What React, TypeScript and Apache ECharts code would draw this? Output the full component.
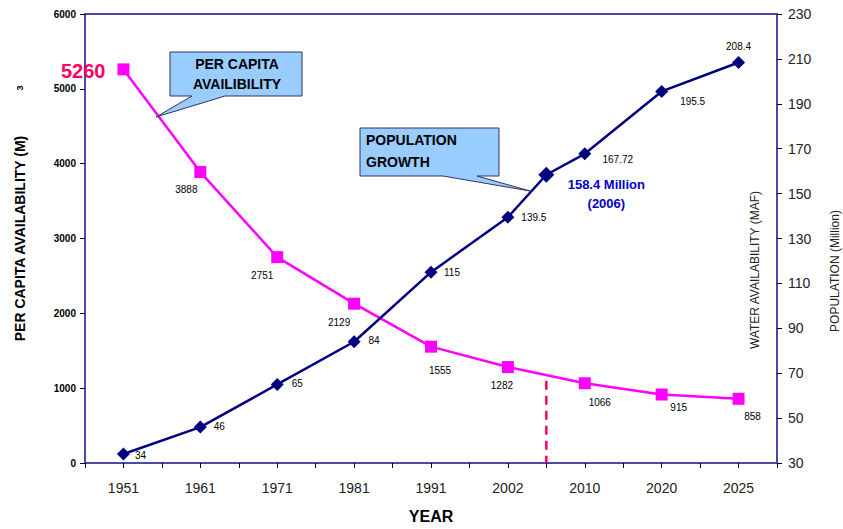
import React, { useEffect, useRef } from "react";
import * as echarts from "echarts";

const years = ["1951", "1961", "1971", "1981", "1991", "2002", "2010", "2020", "2025"];
const perCapita = [5260, 3888, 2751, 2129, 1555, 1282, 1066, 915, 858];
const popYears = [1951, 1961, 1971, 1981, 1991, 2002, 2006, 2010, 2020, 2025];
const population = [34, 46, 65, 84, 115, 139.5, 158.4, 167.72, 195.5, 208.4];
const thresholdYear = 2006;
const thresholdValue = 1100;
const leftAxis = { min: 0, max: 6000, step: 1000 };
const rightAxis = { min: 30, max: 230, step: 20 };

// label placement (styling)
const capitaLabelShift: [number, number][] = [
  [0, 0], [-14, 17], [-15, 18], [-15, 19], [9, 24], [-6, 18], [15, 19], [17, 13], [14, 18],
];
const popLabelShift: ([number, number] | null)[] = [
  [17, 1], [19, -1], [20, -1], [20, -1], [21, 0], [26, 0], null, [33, 6], [31, 10], [0, -16],
];

const yearToIndex = (y: number) => {
  const nums = years.map(Number);
  for (let i = 0; i < nums.length - 1; i++) {
    if (y >= nums[i] && y <= nums[i + 1]) return i + (y - nums[i]) / (nums[i + 1] - nums[i]);
  }
  return nums.indexOf(y);
};

const FONT = "Liberation Sans, Arial, sans-serif";
const NAVY = "#000080";
const PINK = "#ff00ff";
const RED = "#ff0066";
const BLUE = "#0000cc";

export default function App() {
  const ref = useRef<HTMLDivElement>(null);
  useEffect(() => {
    if (!ref.current) return;
    const chart = echarts.init(ref.current, null, { renderer: "svg" });

    const capitaData = perCapita.map((v, i) => {
      if (i === 0) {
        return {
          value: [i, v],
          label: {
            show: true,
            position: "left",
            distance: 12,
            offset: [0, 2],
            formatter: String(v),
            color: RED,
            fontSize: 20,
            fontWeight: "bold",
            fontFamily: FONT,
          },
        };
      }
      return {
        value: [i, v],
        label: {
          show: true,
          position: "inside",
          offset: capitaLabelShift[i],
          formatter: String(v),
          color: "#000",
          fontSize: 10,
          fontFamily: FONT,
        },
      };
    });

    const popData = population.map((v, i) => {
      const shift = popLabelShift[i];
      const x = yearToIndex(popYears[i]);
      if (!shift) {
        return {
          value: [x, v],
          symbolSize: 16,
          label: {
            show: true,
            position: "inside",
            offset: [60, 19],
            formatter: "{a|" + v + " Million}\n{a|(" + popYears[i] + ")}",
            rich: {
              a: { color: BLUE, fontSize: 13, fontWeight: "bold", fontFamily: FONT, lineHeight: 19, align: "center" },
            },
          },
        };
      }
      return {
        value: [x, v],
        label: {
          show: true,
          position: "inside",
          offset: shift,
          formatter: String(v),
          color: "#000",
          fontSize: 10,
          fontFamily: FONT,
        },
      };
    });

    const tx = yearToIndex(thresholdYear);

    const axisLineStyle = { color: "#1a1a5e", width: 2, shadowColor: "#9a9ad0", shadowBlur: 3 };

    chart.setOption({
      animation: false,
      backgroundColor: "#fff",
      grid: {
        left: 85,
        right: 66,
        top: 14,
        bottom: 64,
        show: true,
        borderColor: "#4a4aa8",
        borderWidth: 2,
        backgroundColor: "transparent",
      },
      xAxis: {
        type: "value",
        min: -0.5,
        max: years.length - 0.5,
        interval: 0.5,
        name: "YEAR",
        nameLocation: "middle",
        nameGap: 45,
        nameTextStyle: { fontFamily: FONT, fontSize: 16, fontWeight: "bold", color: "#000" },
        splitLine: { show: false },
        axisLine: { onZero: false, lineStyle: axisLineStyle },
        axisTick: { show: true, length: 5, lineStyle: { color: "#000", width: 1 } },
        axisLabel: {
          margin: 18,
          fontFamily: FONT,
          fontSize: 14,
          color: "#222",
          showMinLabel: true,
          showMaxLabel: true,
          formatter: (v: number) => (Number.isInteger(v) && years[v] ? years[v] : ""),
        },
      },
      yAxis: [
        {
          type: "value",
          min: leftAxis.min,
          max: leftAxis.max,
          interval: leftAxis.step,
          position: "left",
          name: "PER CAPITA AVAILABILITY (M)",
          nameLocation: "middle",
          nameGap: 58,
          nameTextStyle: { fontFamily: FONT, fontSize: 14, fontWeight: "bold", color: "#000" },
          splitLine: { show: false },
          axisLine: { show: true, onZero: false, lineStyle: axisLineStyle },
          axisTick: { show: true, length: 5, lineStyle: { color: "#000" } },
          axisLabel: {
            margin: 9,
            fontFamily: FONT,
            fontSize: 10,
            fontWeight: "bold",
            color: "#000",
            formatter: (v: number) => String(v),
          },
        },
        {
          type: "value",
          min: rightAxis.min,
          max: rightAxis.max,
          interval: rightAxis.step,
          position: "right",
          splitLine: { show: false },
          axisLine: { show: true, onZero: false, lineStyle: axisLineStyle },
          axisTick: { show: true, length: 5, lineStyle: { color: "#000" } },
          axisLabel: { margin: 11, fontFamily: FONT, fontSize: 14, color: "#222" },
        },
      ],
      series: [
        {
          type: "line",
          name: "Per capita",
          yAxisIndex: 0,
          data: capitaData,
          symbol: "rect",
          symbolSize: 12,
          itemStyle: { color: PINK },
          lineStyle: { color: PINK, width: 2.5 },
          z: 3,
        },
        {
          type: "line",
          name: "Population",
          yAxisIndex: 1,
          data: popData,
          symbol: "diamond",
          symbolSize: 13,
          itemStyle: { color: NAVY },
          lineStyle: { color: NAVY, width: 2.5 },
          z: 4,
        },
        {
          type: "line",
          name: "Threshold",
          yAxisIndex: 0,
          data: [
            {
              value: [tx, thresholdValue],
              label: {
                show: true,
                position: "top",
                distance: 10,
                offset: [26, 0],
                formatter: "{a|" + thresholdValue + " m}{s|3}\n{a|" + thresholdYear + "}",
                rich: {
                  a: { color: BLUE, fontSize: 20, fontFamily: FONT, lineHeight: 26, align: "center" },
                  s: { color: BLUE, fontSize: 12, fontFamily: FONT, verticalAlign: "top", lineHeight: 26 },
                },
              },
            },
            { value: [tx, leftAxis.min] },
          ],
          symbol: "none",
          lineStyle: { color: RED, width: 2.5, type: [9, 6] },
          z: 2,
        },
      ],
      graphic: [
        {
          type: "polygon",
          shape: {
            points: [
              [170, 52], [302, 52], [302, 96], [225, 96], [156, 117], [192, 96], [170, 96],
            ],
          },
          style: { fill: "#99ccff", stroke: "#333366", lineWidth: 1 },
          z: 10,
        },
        {
          type: "text",
          x: 237,
          y: 74,
          style: {
            text: "PER CAPITA\nAVAILIBILITY",
            fontFamily: FONT,
            fontSize: 14,
            fontWeight: "bold",
            fill: "#000",
            align: "center",
            verticalAlign: "middle",
            lineHeight: 20,
          },
          z: 11,
        },
        {
          type: "polygon",
          shape: {
            points: [
              [360, 128], [499, 128], [499, 176], [477, 176], [530, 191], [443, 176], [360, 176],
            ],
          },
          style: { fill: "#99ccff", stroke: "#333366", lineWidth: 1 },
          z: 10,
        },
        {
          type: "text",
          x: 366,
          y: 151,
          style: {
            text: "POPULATION\nGROWTH",
            fontFamily: FONT,
            fontSize: 14,
            fontWeight: "bold",
            fill: "#000",
            align: "left",
            verticalAlign: "middle",
            lineHeight: 22,
          },
          z: 11,
        },
        {
          type: "text",
          x: 20,
          y: 88,
          rotation: Math.PI / 2,
          style: { text: "3", fontFamily: FONT, fontSize: 9, fontWeight: "bold", fill: "#000", align: "center", verticalAlign: "middle" },
        },
        {
          type: "text",
          x: 755,
          y: 270,
          rotation: Math.PI / 2,
          style: {
            text: "WATER AVAILABILITY (MAF)",
            fontFamily: FONT,
            fontSize: 12,
            fill: "#222",
            align: "center",
            verticalAlign: "middle",
          },
        },
        {
          type: "text",
          x: 835,
          y: 271,
          rotation: Math.PI / 2,
          style: {
            text: "POPULATION (Million)",
            fontFamily: FONT,
            fontSize: 12,
            fill: "#222",
            align: "center",
            verticalAlign: "middle",
          },
        },
      ],
    });
    return () => chart.dispose();
  }, []);
  return (
    <div
      ref={ref}
      style={{ position: "fixed", left: 0, top: 0, width: 843, height: 529, background: "#fff" }}
    />
  );
}
